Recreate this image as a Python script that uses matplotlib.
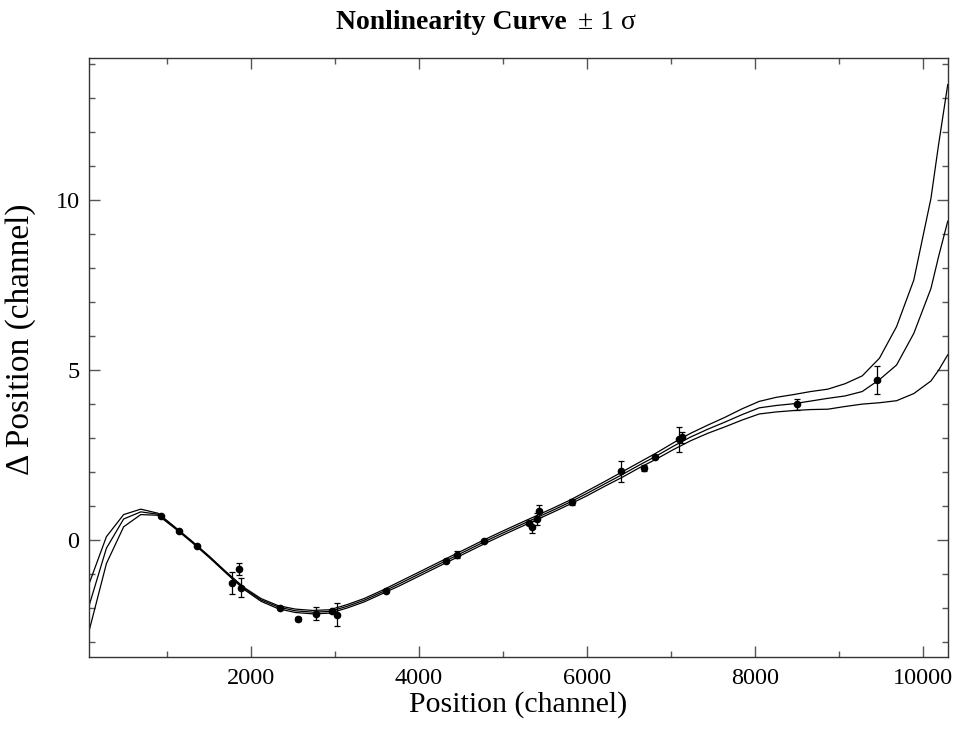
import numpy as np
import matplotlib
matplotlib.use('Agg')
import matplotlib.pyplot as plt
from matplotlib.ticker import MultipleLocator

plt.rcParams['font.family'] = ['Liberation Serif', 'DejaVu Serif']

# nonlinearity curve grid (channel) and the fit +/- 1 sigma
grid = [80, 284, 489, 693, 898, 1102, 1307, 1511, 1716, 1920,
        2124, 2329, 2533, 2738, 2942, 3147, 3351, 3556, 3760, 3965,
        4169, 4373, 4578, 4782, 4987, 5191, 5396, 5600, 5805, 6009,
        6213, 6418, 6622, 6827, 7031, 7236, 7440, 7645, 7849, 8054,
        8258, 8462, 8667, 8871, 9076, 9280, 9485, 9689, 9894, 10098,
        10190, 10298]

mid = [-1.91, -0.24, 0.62, 0.83, 0.76, 0.36, -0.06, -0.50, -0.97, -1.42,
       -1.76, -1.97, -2.08, -2.12, -2.10, -1.95, -1.77, -1.54, -1.30, -1.05,
       -0.80, -0.55, -0.30, -0.05, 0.19, 0.42, 0.65, 0.88, 1.12, 1.38,
       1.65, 1.92, 2.20, 2.47, 2.76, 3.03, 3.26, 3.47, 3.69, 3.89,
       3.96, 4.01, 4.09, 4.17, 4.24, 4.37, 4.72, 5.15, 6.08, 7.40,
       8.35, 9.38]

upper = [-1.27, 0.10, 0.75, 0.91, 0.79, 0.38, -0.04, -0.48, -0.95, -1.39,
         -1.72, -1.93, -2.03, -2.07, -2.05, -1.90, -1.72, -1.49, -1.24, -0.99,
         -0.74, -0.49, -0.24, 0.01, 0.25, 0.48, 0.71, 0.94, 1.18, 1.45,
         1.72, 2.00, 2.28, 2.56, 2.86, 3.14, 3.38, 3.61, 3.86, 4.08,
         4.20, 4.28, 4.37, 4.44, 4.60, 4.83, 5.35, 6.28, 7.65, 10.05,
         11.65, 13.40]

lower = [-2.65, -0.69, 0.39, 0.75, 0.73, 0.34, -0.08, -0.52, -0.99, -1.45,
         -1.80, -2.02, -2.13, -2.17, -2.15, -2.00, -1.82, -1.59, -1.36, -1.11,
         -0.86, -0.61, -0.36, -0.11, 0.13, 0.36, 0.59, 0.82, 1.06, 1.31,
         1.58, 1.84, 2.12, 2.38, 2.66, 2.92, 3.14, 3.33, 3.53, 3.71,
         3.77, 3.81, 3.84, 3.85, 3.93, 4.00, 4.04, 4.10, 4.31, 4.68,
         5.00, 5.45]

# measured peaks
px = [937, 1144, 1362, 1782, 1858, 1882, 2354, 2568, 2782, 2966,
      3032, 3609, 4326, 4461, 4782, 5318, 5350, 5410, 5437, 5826,
      6413, 6680, 6815, 7100, 7132, 8509, 9454]
py = [0.71, 0.27, -0.17, -1.27, -0.85, -1.40, -2.01, -2.31, -2.16, -2.10,
      -2.19, -1.50, -0.62, -0.43, -0.03, 0.49, 0.38, 0.61, 0.85, 1.12,
      2.02, 2.12, 2.44, 2.96, 3.02, 3.99, 4.71]
perr = [0.04, 0.03, 0.03, 0.33, 0.18, 0.28, 0.03, 0.06, 0.18, 0.04,
        0.35, 0.04, 0.03, 0.10, 0.04, 0.05, 0.18, 0.18, 0.18, 0.10,
        0.31, 0.10, 0.04, 0.38, 0.15, 0.16, 0.40]

fig = plt.figure(figsize=(9.61, 7.40), dpi=100)
ax = fig.add_axes([0.0929, 0.1126, 0.8933, 0.8094])

for c in (upper, mid, lower):
    ax.plot(grid, c, color='black', lw=0.9)
ax.errorbar(px, py, yerr=perr, fmt='o', color='black', ms=4.5,
            elinewidth=0.9, capsize=2.5, capthick=0.9)

ax.set_xlim(80, 10298)
ax.set_ylim(-3.43, 14.19)
ax.xaxis.set_major_locator(MultipleLocator(2000))
ax.xaxis.set_minor_locator(MultipleLocator(1000))
ax.yaxis.set_major_locator(MultipleLocator(5))
ax.yaxis.set_minor_locator(MultipleLocator(1))
ax.tick_params(which='both', direction='in', top=True, right=True,
               labelsize=17.5, color='#555555')
ax.tick_params(which='major', length=8, width=1, pad=8)
ax.tick_params(which='minor', length=4, width=1)
ax.tick_params(axis='y', pad=7)
for s in ax.spines.values():
    s.set_linewidth(1)
    s.set_color('#333333')

ax.set_xlabel('Position (channel)', fontsize=21.5)
ax.xaxis.set_label_coords(0.5, -0.057)
ax.set_ylabel('\u0394 Position (channel)', fontsize=24)
ax.yaxis.set_label_coords(-0.062, 0.53)

fig.text(0.590, 0.970, 'Nonlinearity Curve', fontsize=20, fontweight='bold',
         ha='right', va='center')
fig.text(0.601, 0.970, '\u00b1 1 \u03c3', fontsize=20, ha='left', va='center')

fig.savefig('out.png', dpi=100)
